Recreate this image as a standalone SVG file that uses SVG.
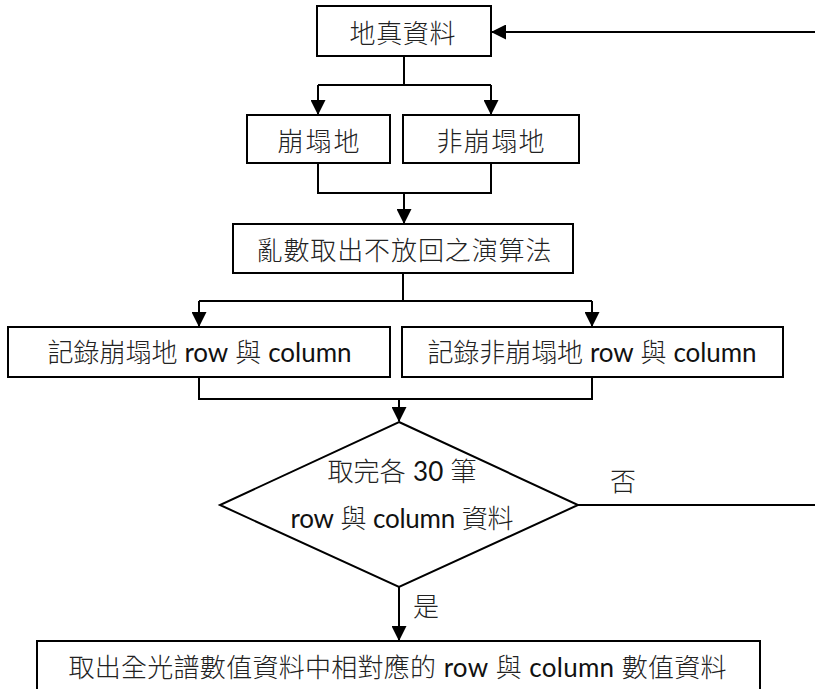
<svg xmlns="http://www.w3.org/2000/svg" width="815" height="689" viewBox="0 0 815 689">
<defs>
<style>
.box{fill:#fff;stroke:#000;stroke-width:2}
.ln{fill:none;stroke:#000;stroke-width:2}
.t{font-family:"Lato","Noto Sans CJK TC","Noto Sans CJK SC",sans-serif;font-size:26px;font-weight:300;fill:#222;text-anchor:middle}
.l{font-weight:400;fill:#111}
</style>
<marker id="ah" markerUnits="userSpaceOnUse" markerWidth="15" markerHeight="15" viewBox="0 0 15 15" refX="14" refY="7.5" orient="auto">
<path d="M0,0 L15,7.5 L0,15 z" fill="#000"/>
</marker>
</defs>
<rect width="815" height="689" fill="#fff"/>
<g id="connectors">
<path class="ln" d="M578,505 H817 V32 H492" marker-end="url(#ah)"/>
<path class="ln" d="M404,56 V85 M318,85 H491"/>
<path class="ln" d="M318,85 V114" marker-end="url(#ah)"/>
<path class="ln" d="M491,85 V114" marker-end="url(#ah)"/>
<path class="ln" d="M318,163 V193 H491 V163"/>
<path class="ln" d="M404,193 V223" marker-end="url(#ah)"/>
<path class="ln" d="M403,273 V301 M199,301 H592"/>
<path class="ln" d="M199,301 V326" marker-end="url(#ah)"/>
<path class="ln" d="M592,301 V326" marker-end="url(#ah)"/>
<path class="ln" d="M199,377 V399 H592 V377"/>
<path class="ln" d="M399,399 V421" marker-end="url(#ah)"/>
<path class="ln" d="M399,587 V640" marker-end="url(#ah)"/>
<text class="t" x="623" y="491">否</text>
<text class="t" x="426" y="616">是</text>
</g>
<g id="n1"><rect class="box" x="317" y="6" width="174" height="50"/><text class="t" x="402.5" y="43" textLength="106">地真資料</text></g>
<g id="n2"><rect class="box" x="247" y="115" width="143" height="48"/><text class="t" x="318.5" y="151" textLength="82">崩塌地</text></g>
<g id="n3"><rect class="box" x="403" y="115" width="176" height="48"/><text class="t" x="490.5" y="151" textLength="108">非崩塌地</text></g>
<g id="n4"><rect class="box" x="233" y="224" width="340" height="49"/><text class="t" x="404" y="260" textLength="295">亂數取出不放回之演算法</text></g>
<g id="n5"><rect class="box" x="8" y="327" width="382" height="50"/><text class="t" x="199.5" y="362" textLength="304">記錄崩塌地 <tspan class="l">row</tspan> 與 <tspan class="l">column</tspan></text></g>
<g id="n6"><rect class="box" x="402" y="327" width="381" height="50"/><text class="t" x="592" y="362" textLength="329">記錄非崩塌地 <tspan class="l">row</tspan> 與 <tspan class="l">column</tspan></text></g>
<g id="n7"><polygon class="box" points="399,422 578,505 399,587 220,505"/><text class="t" x="402" y="481" textLength="149">取完各 <tspan class="l">30</tspan> 筆</text><text class="t" x="402" y="528" textLength="223"><tspan class="l">row</tspan> 與 <tspan class="l">column</tspan> 資料</text></g>
<g id="n8"><rect class="box" x="37" y="641" width="723" height="70"/><text class="t" x="397.5" y="677" textLength="658">取出全光譜數值資料中相對應的 <tspan class="l">row</tspan> 與 <tspan class="l">column</tspan> 數值資料</text></g>
</svg>
